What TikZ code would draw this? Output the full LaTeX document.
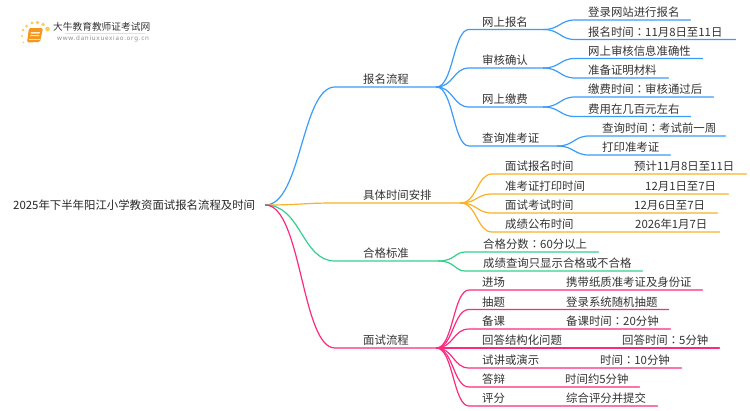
\documentclass[tikz,border=0pt]{standalone}
\usepackage{fontspec}
\setmainfont{Noto Sans CJK SC}
\newfontfamily\urlfont[LetterSpace=12]{Noto Sans}
\newfontfamily\colonfont{Noto Sans CJK TC}
\newcommand{\midcolon}{{\colonfont ：}}
\usetikzlibrary{calc}
\usetikzlibrary{positioning}
\definecolor{mapblue}{HTML}{3A9BFA}
\definecolor{maporange}{HTML}{FBB126}
\definecolor{mapgreen}{HTML}{35CF8C}
\definecolor{mappink}{HTML}{FB2A80}
\definecolor{maptext}{HTML}{333333}
\definecolor{sun}{HTML}{FBCB5A}
\definecolor{book}{HTML}{F5961E}
\tikzset{
	root/.style={anchor=west, inner sep=0pt, text width=252pt, text=black!85,
		font=\fontsize{11.4pt}{13pt}\selectfont},
	topic/.style={anchor=south west, inner sep=0pt, minimum height=14.6pt, text width=#1,
		align=left, text=maptext, font=\fontsize{11.4pt}{13pt}\selectfont},
	detail/.style={topic=120pt},
	link/.style={line width=1.2pt, line cap=round, to path={
		.. controls ($(\tikztostart)!0.37!(\tikztotarget |- \tikztostart)$)
		and ($(\tikztostart |- \tikztotarget)!0.37!(\tikztotarget)$)
		.. ([xshift=-#1]\tikztotarget) -- (\tikztotarget)}},
	link/.default=13pt
}
\begin{document}
\begin{tikzpicture}[x=1pt, y=-1pt]

\useasboundingbox (0,0) rectangle (750,410);

\foreach \dotx/\doty/\dotr in {47.5/29/2.3, 43/24.5/1.9, 37.5/22.5/1.8, 32/23/1.7, 26.5/26/1.5, 23/30/1.3, 22/36/1.1, 23.5/42.5/0.8}
	\fill [sun] (\dotx,\doty) circle (\dotr pt);
\fill [book, rounded corners=1.5pt] (29,28) -- (43,28) -- (40,42) -- (27,42.5) -- cycle;
\fill [white!80!book] (31,32) -- (40,32) -- (39.6,33.5) -- (30.6,33.5) -- cycle;
\fill [white!80!book] (30.4,35) -- (39.4,35) -- (39,36) -- (30.2,36) -- cycle;
\draw [white!70!book, line width=0.7pt] (28.5,39.5) -- (39.5,39.5);

\node [anchor=west, inner sep=0pt, text=maptext, font=\fontsize{9.7pt}{11pt}\selectfont] (brand) at (53,27) {大牛教育教师证考试网};
\node [anchor=west, inner sep=0pt, text=black!45, font=\urlfont\fontsize{6.2pt}{8pt}\selectfont] (site) at (57,39) {www.daniuxuexiao.org.cn};
\draw [black!12, line width=0.6pt] (65,33) -- (145,33);

\node[root] (root) at (13,205) {2025年下半年阳江小学教资面试报名流程及时间};

\node[topic=73pt] (signup) at (363,87) {报名流程};
\node[topic=97pt] (schedule) at (363,203) {具体时间安排};
\node[topic=75pt] (standard) at (363,261) {合格标准};
\node[topic=73pt] (interview) at (363,348) {面试流程};

\node[topic=61pt] (online) at (482,29.5) {网上报名};
\node[topic=61pt] (audit) at (482,68) {审核确认};
\node[topic=61pt] (payment) at (482,107) {网上缴费};
\node[topic=75pt] (ticket) at (482,146) {查询准考证};

\node[topic=102pt] (login) at (588,20) {登录网站进行报名};
\node[topic=147pt] (signtime) at (588,39.5) {报名时间\midcolon 11月8日至11日};
\node[topic=114pt] (verify) at (588,58.5) {网上审核信息准确性};
\node[topic=80pt] (papers) at (588,78) {准备证明材料};
\node[topic=125pt] (paytime) at (588,97) {缴费时间\midcolon 审核通过后};
\node[topic=102pt] (fee) at (588,116.5) {费用在几百元左右};
\node[topic=123pt] (querytime) at (602,136) {查询时间\midcolon 考试前一周};
\node[topic=68pt] (print) at (602,155) {打印准考证};

\node[topic=241pt] (signdate) at (505,174) {面试报名时间};
\node[detail] at (634,174) {预计11月8日至11日};
\node[topic=223pt] (printdate) at (505,194) {准考证打印时间};
\node[detail] at (645,194) {12月1日至7日};
\node[topic=212pt] (examdate) at (505,213) {面试考试时间};
\node[detail] at (634,213) {12月6日至7日};
\node[topic=214pt] (resultdate) at (505,232) {成绩公布时间};
\node[detail] at (635,232) {2026年1月7日};

\node[topic=115pt] (score) at (483,252) {合格分数\midcolon 60分以上};
\node[topic=159pt] (result) at (483,271) {成绩查询只显示合格或不合格};

\node[topic=220pt] (enter) at (482,290) {进场};
\node[detail, text width=140pt] at (566,290) {携带纸质准考证及身份证};
\node[topic=186pt] (draw) at (482,309.5) {抽题};
\node[detail] at (566,309.5) {登录系统随机抽题};
\node[topic=188pt] (prepare) at (482,329) {备课};
\node[detail] at (566,329) {备课时间\midcolon 20分钟};
\node[topic=237pt] (answer) at (482,348) {回答结构化问题};
\node[detail] at (622,348) {回答时间\midcolon 5分钟};
\node[topic=199pt] (lecture) at (482,368) {试讲或演示};
\node[detail] at (600,368) {时间\midcolon 10分钟};
\node[topic=157pt] (defense) at (482,387) {答辩};
\node[detail] at (565,387) {时间约5分钟};
\node[topic=175pt] (grade) at (482,406) {评分};
\node[detail] at (566,406) {综合评分并提交};


\draw [link=28pt, mapblue] (root.east) to (signup.south west) -- (signup.south east);
\draw [link, mapblue] (signup.south east) to (online.south west) -- (online.south east);
\draw [link, mapblue] (signup.south east) to (audit.south west) -- (audit.south east);
\draw [link, mapblue] (signup.south east) to (payment.south west) -- (payment.south east);
\draw [link, mapblue] (signup.south east) to (ticket.south west) -- (ticket.south east);
\draw [link, mapblue] (online.south east) to (login.south west) -- (login.south east);
\draw [link, mapblue] (online.south east) to (signtime.south west) -- (signtime.south east);
\draw [link, mapblue] (audit.south east) to (verify.south west) -- (verify.south east);
\draw [link, mapblue] (audit.south east) to (papers.south west) -- (papers.south east);
\draw [link, mapblue] (payment.south east) to (paytime.south west) -- (paytime.south east);
\draw [link, mapblue] (payment.south east) to (fee.south west) -- (fee.south east);
\draw [link, mapblue] (ticket.south east) to (querytime.south west) -- (querytime.south east);
\draw [link, mapblue] (ticket.south east) to (print.south west) -- (print.south east);

\draw [link=28pt, maporange] (root.east) to (schedule.south west) -- (schedule.south east);
\draw [link, maporange] (schedule.south east) to (signdate.south west) -- (signdate.south east);
\draw [link, maporange] (schedule.south east) to (printdate.south west) -- (printdate.south east);
\draw [link, maporange] (schedule.south east) to (examdate.south west) -- (examdate.south east);
\draw [link, maporange] (schedule.south east) to (resultdate.south west) -- (resultdate.south east);

\draw [link=28pt, mapgreen] (root.east) to (standard.south west) -- (standard.south east);
\draw [link=18pt, mapgreen] (standard.south east) to (score.south west) -- (score.south east);
\draw [link=18pt, mapgreen] (standard.south east) to (result.south west) -- (result.south east);

\draw [link=28pt, mappink] (root.east) to (interview.south west) -- (interview.south east);
\draw [link, mappink] (interview.south east) to (enter.south west) -- (enter.south east);
\draw [link, mappink] (interview.south east) to (draw.south west) -- (draw.south east);
\draw [link, mappink] (interview.south east) to (prepare.south west) -- (prepare.south east);
\draw [link, mappink] (interview.south east) to (answer.south west) -- (answer.south east);
\draw [link, mappink] (interview.south east) to (lecture.south west) -- (lecture.south east);
\draw [link, mappink] (interview.south east) to (defense.south west) -- (defense.south east);
\draw [link, mappink] (interview.south east) to (grade.south west) -- (grade.south east);

\end{tikzpicture}
\end{document}
